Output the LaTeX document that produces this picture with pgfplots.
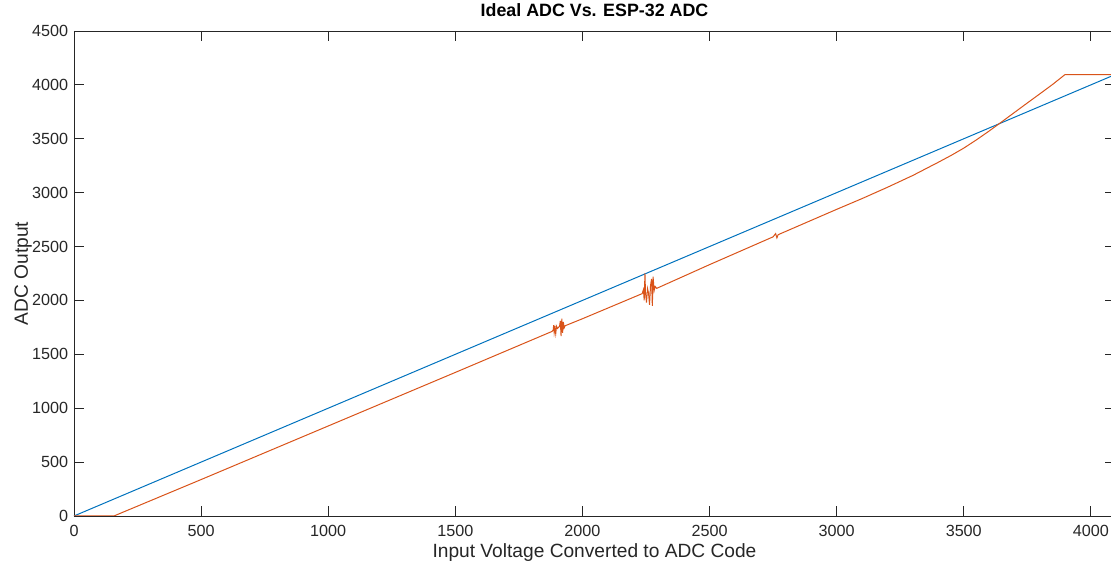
\documentclass[border=0pt]{standalone}
\usepackage{fontspec}
\setmainfont{Liberation Sans}
\usepackage{pgfplots}
\pgfplotsset{compat=1.18}
\definecolor{mblue}{rgb}{0,0.447,0.741}
\definecolor{morange}{rgb}{0.85,0.325,0.098}
\definecolor{axgray}{rgb}{0.15,0.15,0.15}
\begin{document}
\begin{tikzpicture}
\begin{axis}[
  scale only axis, width=624.6pt, height=291pt,
  xmin=0, xmax=4095, ymin=0, ymax=4500,
  xtick={0,500,...,4000}, ytick={0,500,...,4500},
  tick align=inside, major tick length=6pt,
  axis line style={axgray, line width=0.5pt},
  tick style={axgray, line width=0.5pt},
  ticklabel style={font=\fontsize{9.7}{11}\selectfont, text=axgray},
  xticklabel style={yshift=-1.8pt},
  /pgf/number format/assume math mode=true,
  /pgf/number format/1000 sep={},
  xlabel={Input Voltage Converted to ADC Code},
  ylabel={ADC Output},
  label style={font=\fontsize{11.5}{13}\selectfont, text=axgray},
  xlabel style={at={(axis description cs:0.5,-0.0866)}, anchor=base},
  ylabel style={at={(axis description cs:-0.0442,0.5)}, anchor=base, rotate=0},
]
\addplot[mblue, line width=0.6pt] coordinates {(0,0) (4095,4095)};
\addplot[morange, line width=0.6pt] table {
x y
0 0
157 0
500 338
1000 835
1500 1332
1880 1712
1885 1725
1887 1770
1889 1700
1892 1745
1895 1690
1898 1760
1902 1740
1906 1750
1910 1760
1913 1810
1916 1670
1919 1830
1922 1700
1925 1800
1928 1745
1932 1765
2000 1830
2235 2063
2240 2100
2243 2000
2246 2250
2248 2075
2252 1980
2256 2110
2260 2070
2264 1960
2268 2140
2272 2200
2275 1950
2278 2220
2282 2090
2286 2130
2292 2112
2500 2332
2750 2590
2760 2620
2765 2580
2770 2610
3000 2845
3100 2945
3200 3050
3300 3160
3400 3282
3450 3345
3500 3413
3550 3490
3600 3572
3650 3658
3700 3745
3750 3832
3800 3918
3850 4005
3898 4095
4095 4095
};
\end{axis}
\node[anchor=base, font=\fontsize{10.7}{12}\selectfont\bfseries] at ([yshift=8.4pt]current axis.north) {Ideal ADC Vs. ESP-32 ADC};
\pgfresetboundingbox
\path[use as bounding box] ([xshift=-44.4pt,yshift=-30.6pt]current axis.south west) rectangle ([xshift=622.2pt,yshift=18.6pt]current axis.north west);
\end{tikzpicture}
\end{document}
